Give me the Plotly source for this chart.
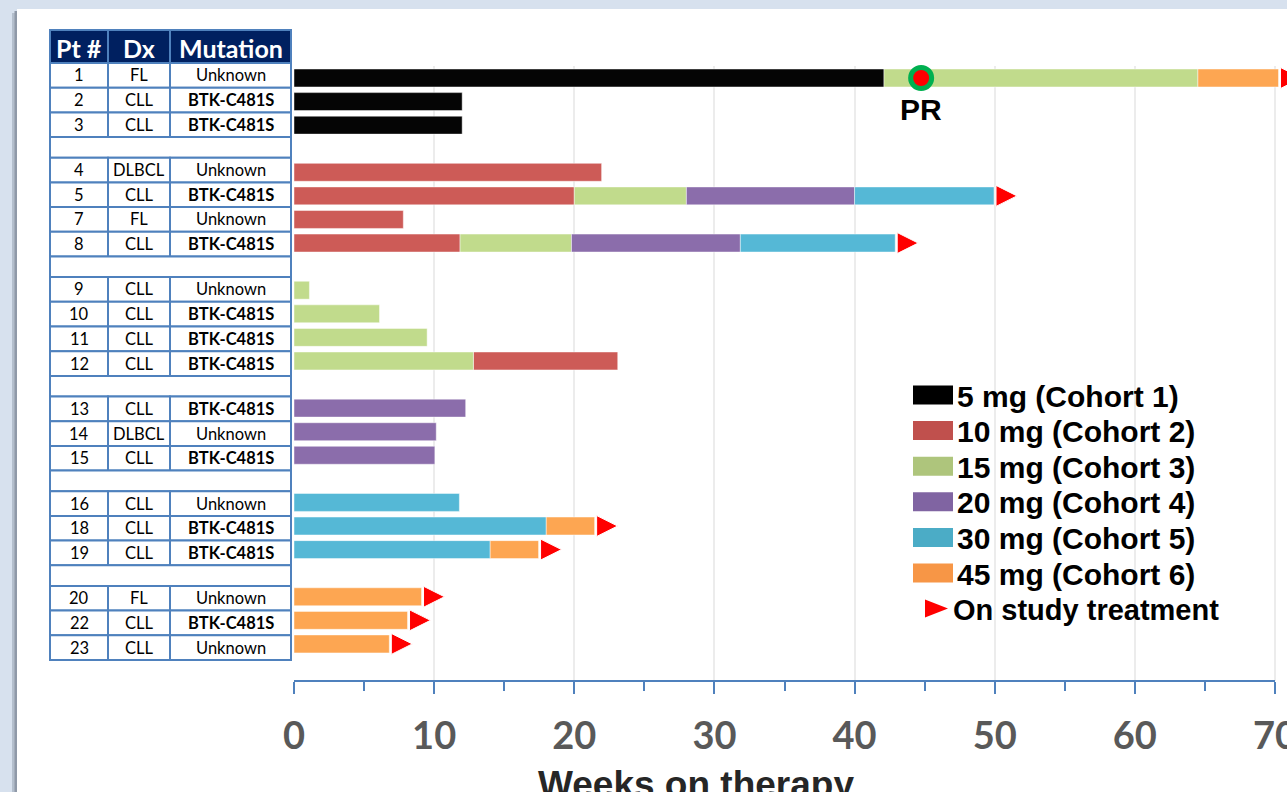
import plotly.graph_objects as go

W, H = 1287, 792
OFF = 0          # figure placed at the page origin (body margin removed below)
FIG_W = W + 40   # a little wider than the window so the clipped right edge looks like the slide

# ---------------- data ----------------
groups = [["1", "2", "3"], ["4", "5", "7", "8"], ["9", "10", "11", "12"],
          ["13", "14", "15"], ["16", "18", "19"], ["20", "22", "23"]]
pt_ids = ["1", "2", "3", "4", "5", "7", "8", "9", "10", "11", "12", "13", "14",
          "15", "16", "18", "19", "20", "22", "23"]
dx = ["FL", "CLL", "CLL", "DLBCL", "CLL", "FL", "CLL", "CLL", "CLL", "CLL", "CLL",
      "CLL", "DLBCL", "CLL", "CLL", "CLL", "CLL", "FL", "CLL", "CLL"]
mutation = ["Unknown", "BTK-C481S", "BTK-C481S", "Unknown", "BTK-C481S", "Unknown",
            "BTK-C481S", "Unknown", "BTK-C481S", "BTK-C481S", "BTK-C481S", "BTK-C481S",
            "Unknown", "BTK-C481S", "Unknown", "BTK-C481S", "BTK-C481S", "Unknown",
            "BTK-C481S", "Unknown"]
table_header = ["Pt #", "Dx", "Mutation"]

cohort_names = ["5 mg (Cohort 1)", "10 mg (Cohort 2)", "15 mg (Cohort 3)",
                "20 mg (Cohort 4)", "30 mg (Cohort 5)", "45 mg (Cohort 6)"]
bar_colors = ["#050505", "#cd5b57", "#c1db8c", "#8b6dab", "#55b8d6", "#fda652"]
legend_colors = ["#000000", "#c0504d", "#aec57c", "#8064a2", "#4bacc6", "#f79646"]

# segments per cohort (patient, start week, end week)
c1_pts = ["1", "2", "3"]
c1_start = [0, 0, 0]
c1_end = [42.1, 12.0, 12.0]
c2_pts = ["4", "5", "7", "8", "12"]
c2_start = [0, 0, 0, 0, 12.8]
c2_end = [21.95, 20.0, 7.8, 11.85, 23.1]
c3_pts = ["1", "5", "8", "9", "10", "11", "12"]
c3_start = [42.1, 20.0, 11.85, 0, 0, 0, 0]
c3_end = [64.5, 28.0, 19.8, 1.1, 6.1, 9.5, 12.8]
c4_pts = ["5", "8", "13", "14", "15"]
c4_start = [28.0, 19.8, 0, 0, 0]
c4_end = [40.0, 31.85, 12.25, 10.15, 10.05]
c5_pts = ["5", "8", "16", "18", "19"]
c5_start = [40.0, 31.85, 0, 0, 0]
c5_end = [49.95, 42.9, 11.8, 18.0, 14.0]
c6_pts = ["1", "18", "19", "20", "22", "23"]
c6_start = [64.5, 18.0, 14.0, 0, 0, 0]
c6_end = [70.25, 21.45, 17.45, 9.1, 8.1, 6.8]

on_study_pts = ["1", "5", "8", "18", "19", "20", "22", "23"]
pr_pt = "1"
pr_week = 44.75
x_ticks = [0, 10, 20, 30, 40, 50, 60, 70]

cohorts = [(c1_pts, c1_start, c1_end), (c2_pts, c2_start, c2_end),
           (c3_pts, c3_start, c3_end), (c4_pts, c4_start, c4_end),
           (c5_pts, c5_start, c5_end), (c6_pts, c6_start, c6_end)]

# ---------------- layout geometry (screen pixels) ----------------
x0_px, x70_px = 294, 1275
px_per_wk = (x70_px - x0_px) / 70.0
plot_top_px, axis_px = 66, 681
row1_px, slot_px = 78, 23.58
slide_bg = "#d7e1ee"


def px2x(p):
    return (p - OFF) / FIG_W


def py2y(p):
    return 1 - (p - OFF) / H


# slot index for each patient (blank slot between groups)
slot = {}
s = 0
for gi, g in enumerate(groups):
    for p in g:
        slot[p] = s
        s += 1
    s += 1

fig = go.Figure()

# bars
end_by_pt = {}
for (pts, st, en), name, col in zip(cohorts, cohort_names, bar_colors):
    fig.add_trace(go.Bar(
        y=[slot[p] for p in pts], x=[e - b for b, e in zip(st, en)], base=st,
        orientation="h", width=0.76, name=name, showlegend=False,
        marker=dict(color=col, line=dict(color="rgba(255,255,255,0.45)", width=1)),
        hoverinfo="skip"))
    for p, e in zip(pts, en):
        end_by_pt[p] = max(end_by_pt.get(p, 0), e)

# on-study arrows (tip a few pixels past bar end)
arrow_off = 23 / px_per_wk
fig.add_trace(go.Scatter(
    x=[end_by_pt[p] + arrow_off for p in on_study_pts],
    y=[slot[p] for p in on_study_pts], mode="markers", cliponaxis=True,
    marker=dict(symbol="arrow-right", size=21, color="#ff0000",
                line=dict(color="white", width=1)),
    showlegend=False, hoverinfo="skip"))

# PR marker
fig.add_trace(go.Scatter(
    x=[pr_week], y=[slot[pr_pt]], mode="markers", cliponaxis=False,
    marker=dict(symbol="circle", size=21, color="#ff0000",
                line=dict(color="#00b050", width=5)),
    showlegend=False, hoverinfo="skip"))

shapes = []
annotations = []


def ann(x, y, text, font, xanchor="center", yanchor="middle", xref="paper",
        yref="paper", **kw):
    d = dict(x=x, y=y, xref=xref, yref=yref, text=text, showarrow=False,
             xanchor=xanchor, yanchor=yanchor, font=font)
    d.update(kw)
    annotations.append(d)


# PR label
ann(pr_week, slot[pr_pt], "PR",
    dict(family="Liberation Sans", size=30, color="black", weight="bold"),
    xref="x", yref="y", yshift=-31)

# slide background strips / shadow
shapes.append(dict(type="rect", xref="paper", yref="paper", x0=-0.05, x1=1.05,
                   y0=py2y(9), y1=1.05, fillcolor=slide_bg, line_width=0, layer="above"))
shapes.append(dict(type="rect", xref="paper", yref="paper", x0=-0.05, x1=px2x(17),
                   y0=-0.05, y1=1.05, fillcolor=slide_bg, line_width=0, layer="above"))
shapes.append(dict(type="rect", xref="paper", yref="paper", x0=px2x(12), x1=px2x(17),
                   y0=-0.05, y1=py2y(13), fillcolor="#b4bfcd", line_width=0, layer="above"))
shapes.append(dict(type="rect", xref="paper", yref="paper", x0=px2x(14.5), x1=px2x(17),
                   y0=-0.05, y1=py2y(11), fillcolor="#8f99a8", line_width=0, layer="above"))

# x-axis line 0..70
shapes.append(dict(type="line", xref="x", yref="paper", x0=0, x1=70,
                   y0=py2y(axis_px), y1=py2y(axis_px),
                   line=dict(color="#4f81bd", width=2)))

# table
border = "#4f81bd"
col_x = [50, 108, 170, 291]
col_c = [(col_x[i] + col_x[i + 1]) / 2 for i in range(3)]
hdr_top, hdr_bot = 30, 63
row_h, blank_h = 24.7, 20.6
for i in range(3):
    shapes.append(dict(type="rect", xref="paper", yref="paper",
                       x0=px2x(col_x[i]), x1=px2x(col_x[i + 1]),
                       y0=py2y(hdr_bot), y1=py2y(hdr_top),
                       fillcolor="#002060", line=dict(color=border, width=2)))
    ann(px2x(col_c[i]), py2y((hdr_top + hdr_bot) / 2 + 1), table_header[i],
        dict(family="Lato", size=25, color="white", weight="bold"))
y = hdr_bot
for gi, g in enumerate(groups):
    for p in g:
        k = pt_ids.index(p)
        vals = [pt_ids[k], dx[k], mutation[k]]
        for i in range(3):
            shapes.append(dict(type="rect", xref="paper", yref="paper",
                               x0=px2x(col_x[i]), x1=px2x(col_x[i + 1]),
                               y0=py2y(y + row_h), y1=py2y(y),
                               fillcolor="white", line=dict(color=border, width=2)))
            bold = (i == 2 and vals[i].startswith("BTK"))
            ann(px2x(col_c[i]), py2y(y + row_h / 2), vals[i],
                dict(family="Lato", size=16.5, color="black",
                     weight="bold" if bold else "normal"))
        y += row_h
    if gi < len(groups) - 1:
        shapes.append(dict(type="rect", xref="paper", yref="paper",
                           x0=px2x(col_x[0]), x1=px2x(col_x[3]),
                           y0=py2y(y + blank_h), y1=py2y(y),
                           fillcolor="white", line=dict(color=border, width=2)))
        y += blank_h

# legend
leg_top = 395
leg_step = 35.6
for i, (name, col) in enumerate(zip(cohort_names, legend_colors)):
    cy = leg_top + i * leg_step
    shapes.append(dict(type="rect", xref="paper", yref="paper",
                       x0=px2x(913), x1=px2x(953), y0=py2y(cy + 9.5), y1=py2y(cy - 9.5),
                       fillcolor=col, line_width=0))
    ann(px2x(955), py2y(cy + 1), name,
        dict(family="Liberation Sans", size=30, color="black", weight="bold"),
        xanchor="left")
cy = leg_top + 6 * leg_step
shapes.append(dict(type="path", xref="paper", yref="paper",
                   path="M %f %f L %f %f L %f %f Z" % (
                       px2x(925), py2y(cy - 9), px2x(948), py2y(cy),
                       px2x(925), py2y(cy + 9)),
                   fillcolor="#ff0000", line_width=0))
ann(px2x(951), py2y(cy + 1), "On study treatment",
    dict(family="Liberation Sans", size=29, color="black", weight="bold"),
    xanchor="left")

# axis title
ann(px2x(696), py2y(762), "Weeks on therapy",
    dict(family="Liberation Sans", size=37, color="#262626", weight="bold"),
    yanchor="top")

fig.update_layout(
    width=FIG_W, height=H, margin=dict(l=0, r=0, t=0, b=0, autoexpand=False),
    paper_bgcolor="white", plot_bgcolor="rgba(0,0,0,0)",
    barmode="overlay", showlegend=False,
    shapes=shapes, annotations=annotations,
    xaxis=dict(domain=[px2x(x0_px), 1.0],
               range=[0, (FIG_W + OFF - x0_px) / px_per_wk],
               automargin=False,
               tickmode="array", tickvals=x_ticks,
               ticks="outside", ticklen=12, tickwidth=2, tickcolor="#4f81bd",
               minor=dict(dtick=5, tick0=0, ticks="outside", ticklen=9, tickwidth=2,
                          tickcolor="#4f81bd", showgrid=False),
               showgrid=True, gridcolor="#ececec", gridwidth=2,
               zeroline=False, showline=False,
               tickfont=dict(family="Lato", size=38, color="#595959", weight="bold"),
               ticklabelstandoff=9, ticklabeloverflow="allow"),
    yaxis=dict(domain=[py2y(axis_px), py2y(plot_top_px)],
               range=[(axis_px - row1_px) / slot_px, (plot_top_px - row1_px) / slot_px],
               automargin=False,
               showticklabels=False, showgrid=False, zeroline=False, showline=False,
               ticks=""),
)

fig.write_html("out.html",
               config={"displayModeBar": False},
               post_script="document.documentElement.style.overflow='hidden';"
                           "document.body.style.overflow='hidden';"
                           "document.body.style.margin='0';"
                           "document.body.style.background='%s';" % slide_bg)
